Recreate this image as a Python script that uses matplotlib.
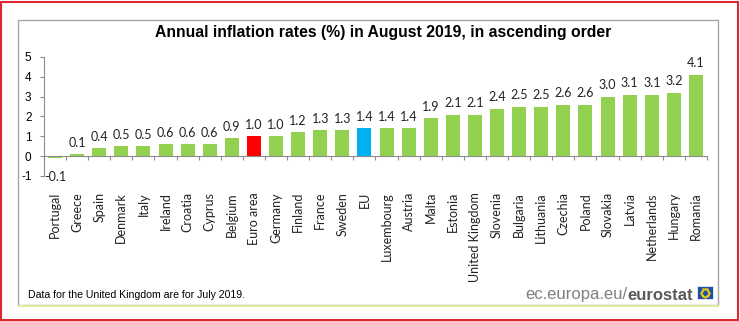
import matplotlib.pyplot as plt
import matplotlib
import numpy as np
from matplotlib.patches import Rectangle
from matplotlib.lines import Line2D
import matplotlib.transforms as mtransforms

matplotlib.rcParams['font.family'] = 'Lato'

countries = ['Portugal', 'Greece', 'Spain', 'Denmark', 'Italy', 'Ireland', 'Croatia',
             'Cyprus', 'Belgium', 'Euro area', 'Germany', 'Finland', 'France', 'Sweden',
             'EU', 'Luxembourg', 'Austria', 'Malta', 'Estonia', 'United Kingdom',
             'Slovenia', 'Bulgaria', 'Lithuania', 'Czechia', 'Poland', 'Slovakia',
             'Latvia', 'Netherlands', 'Hungary', 'Romania']
rates = [-0.1, 0.1, 0.4, 0.5, 0.5, 0.6, 0.6, 0.6, 0.9, 1.0, 1.0, 1.2, 1.3, 1.3,
         1.4, 1.4, 1.4, 1.9, 2.1, 2.1, 2.4, 2.5, 2.5, 2.6, 2.6, 3.0, 3.1, 3.1, 3.2, 4.1]
yticks = [-1, 0, 1, 2, 3, 4, 5]

GREEN = '#92D050'
RED = '#FF0000'
BLUE = '#00B0F0'
AXIS = '#8C8C8C'

colors = []
for c in countries:
    if c == 'Euro area':
        colors.append(RED)
    elif c == 'EU':
        colors.append(BLUE)
    else:
        colors.append(GREEN)

W, H = 740, 321
fig = plt.figure(figsize=(W / 100, H / 100), dpi=100)

# outer red frame and grey panel
fig.patches.append(Rectangle((1 / W, 1 / H), (W - 3) / W, (H - 3) / H, transform=fig.transFigure,
                             fill=False, edgecolor='#E0262E', lw=1.5))
fig.patches.append(Rectangle((18 / W, 1 - 305 / H), 700 / W, 285 / H, transform=fig.transFigure,
                             fill=False, edgecolor='#A6A6A6', lw=1.0))
fig.lines.append(Line2D([19 / W, 718 / W], [1 - 306 / H, 1 - 306 / H], transform=fig.transFigure,
                        color='#E4E89A', lw=1.5))

ax = fig.add_axes([44 / W, 1 - 176 / H, 663 / W, 119 / H])
x = list(range(len(countries)))
ax.bar(x, rates, width=0.63, color=colors, zorder=2)

ax.set_xlim(-0.5, len(countries) - 0.5)
ax.set_ylim(-1, 5)
ax.set_yticks(yticks)
ax.set_yticklabels([str(t) for t in yticks], family='Liberation Sans')
ax.tick_params(axis='y', length=3, color=AXIS, labelsize=8.5, pad=6)

for s in ['top', 'right']:
    ax.spines[s].set_visible(False)
ax.spines['left'].set_color(AXIS)
ax.spines['bottom'].set_color(AXIS)
ax.spines['bottom'].set_position(('data', 0))
ax.set_xticks([i - 0.5 for i in range(len(countries) + 1)])
ax.set_xticklabels([])
ax.tick_params(axis='x', length=3, color=AXIS, direction='out')

for i, v in enumerate(rates):
    if v >= 0:
        ax.text(i, v + 0.28, f'{v:.1f}', ha='center', va='bottom', fontsize=9, color='#222222')
    else:
        ax.text(i, -0.75, f'{v:.1f}', ha='center', va='top', fontsize=9, color='#222222')

trans = mtransforms.blended_transform_factory(ax.transData, fig.transFigure)
for i, c in enumerate(countries):
    ax.text(i, 1 - 192 / H, c, rotation=90, ha='center', va='top', fontsize=9,
            color='#222222', transform=trans, clip_on=False)

fig.text(383 / W, 1 - 32 / H, 'Annual inflation rates (%) in August 2019, in ascending order',
         ha='center', va='center', fontsize=11.3, fontweight='bold', family='Liberation Sans')
fig.text(28 / W, 1 - 295 / H, 'Data for the United Kingdom are for July 2019.',
         ha='left', va='center', fontsize=7.6, family='Liberation Sans')

t1 = fig.text(525 / W, 1 - 295 / H, 'ec.europa.eu/', ha='left', va='center', fontsize=12,
              color='#7F7F7F', family='Liberation Sans')
fig.canvas.draw()
bb = t1.get_window_extent()
fig.text(bb.x1 / W, 1 - 295 / H, 'eurostat', ha='left', va='center', fontsize=12,
         fontweight='bold', color='#5A5A5A', family='Liberation Sans')

# small EU flag
fig.patches.append(Rectangle((697 / W, 1 - 299 / H), 16 / W, 13 / H, transform=fig.transFigure,
                             facecolor='#1F4FA8', edgecolor='white', lw=0.5))
ang = np.linspace(0, 2 * np.pi, 12, endpoint=False)
fig.add_artist(Line2D((705 + 4 * np.cos(ang)) / W, (1 - 292.5 / H) + 4 * np.sin(ang) / H,
                      transform=fig.transFigure, ls='none', marker='o', ms=0.8,
                      color='#FFD700'))

fig.savefig('out.png', dpi=100)
